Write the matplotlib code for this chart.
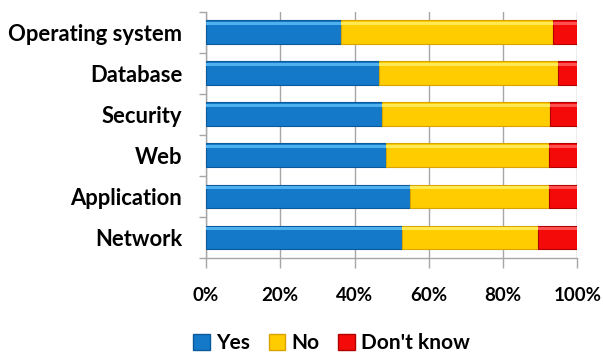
import matplotlib
matplotlib.use("Agg")
import matplotlib.pyplot as plt
from matplotlib.patches import Patch
import numpy as np

plt.rcParams['font.family'] = ['Lato', 'DejaVu Sans']

# data (percent), top to bottom as shown
categories = ["Operating system", "Database", "Security", "Web", "Application", "Network"]
yes = [36.4, 46.7, 47.4, 48.5, 54.9, 52.7]
no = [57.0, 48.1, 45.2, 43.8, 37.4, 36.6]
dont_know = [6.6, 5.2, 7.4, 7.7, 7.7, 10.7]
series_names = ["Yes", "No", "Don't know"]
x_ticks = [0, 20, 40, 60, 80, 100]

colors = ["#1479C9", "#FFCC00", "#F50A0A"]
edges = ["#0B5A9C", "#D9A300", "#B00000"]
highlights = ["#4FB0EE", "#FFEA55", "#FF5050"]

fig = plt.figure(figsize=(6.03, 3.54), dpi=100)
ax = fig.add_axes([0.3416, 0.2712, 0.6158, 0.6958])

y = np.arange(len(categories))[::-1]
left = np.zeros(len(categories))
bar_h = 0.58
for vals, c, ec, hc in zip([yes, no, dont_know], colors, edges, highlights):
    vals = np.array(vals)
    ax.barh(y, vals, left=left, height=bar_h, color=c, edgecolor=ec, linewidth=0.8, zorder=3)
    # light strip along the top for the shaded look
    ax.barh(y + bar_h * 0.36, vals, left=left, height=bar_h * 0.12, color=hc,
            linewidth=0, zorder=4)
    left += vals

ax.set_xlim(0, 100)
ax.set_ylim(-0.5, len(categories) - 0.5)
ax.set_xticks(x_ticks)
ax.set_xticklabels([f"{t}%" for t in x_ticks])
ax.set_yticks(y)
ax.set_yticklabels(categories)
ax.set_yticks(np.arange(len(categories) + 1) - 0.5, minor=True)

ax.grid(axis="x", color="#A6A6A6", linewidth=1, zorder=0)
for s in ["top", "right"]:
    ax.spines[s].set_visible(False)
for s in ["left", "bottom"]:
    ax.spines[s].set_color("#A6A6A6")
    ax.spines[s].set_linewidth(1)

ax.tick_params(axis="x", length=7, width=1, color="#A6A6A6", pad=14,
               labelsize=13.5)
ax.tick_params(axis="y", which="major", length=0, pad=17, labelsize=15.8)
ax.tick_params(axis="y", which="minor", length=5, width=1, color="#A6A6A6")
for lbl in ax.get_xticklabels() + ax.get_yticklabels():
    lbl.set_fontweight("bold")

handles = [Patch(facecolor=c, edgecolor=ec) for c, ec in zip(colors, edges)]
fig.legend(handles, series_names, loc="center", bbox_to_anchor=(0.55, 0.03),
           ncol=3, frameon=False, prop={"size": 15, "weight": "bold"},
           handlelength=0.8, handleheight=0.8, handletextpad=0.3, columnspacing=0.9)

fig.savefig("out.png", dpi=100)
